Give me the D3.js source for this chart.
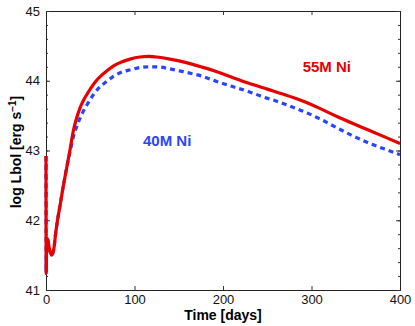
<!DOCTYPE html>
<html>
<head>
<meta charset="utf-8">
<script src="https://cdn.jsdelivr.net/npm/d3@7"></script>
<style>
  body { margin: 0; background: #fff; }
  text { font-family: "Liberation Sans", Arial, sans-serif; }
</style>
</head>
<body>
<div id="chart"></div>
<script>
// light curves, log L_bol vs time
var daysRed = [0, 0.2, 0.8, 2, 4, 6.5, 9, 11, 13, 16, 19, 22, 25, 27, 31, 35, 38.4, 42, 46, 50, 55.4, 62, 68.6, 76, 83.6, 95, 106, 117, 125, 140, 155, 175, 193, 210, 230, 250, 270, 290, 310, 330, 350, 365, 380, 400];
var lumRed = [42.92, 41.24, 41.74, 41.72, 41.58, 41.5, 41.6, 41.82, 42.0, 42.22, 42.45, 42.66, 42.86, 43.0, 43.29, 43.48, 43.61, 43.71, 43.80, 43.88, 43.98, 44.07, 44.14, 44.21, 44.26, 44.31, 44.34, 44.35, 44.34, 44.31, 44.27, 44.2, 44.13, 44.05, 43.96, 43.88, 43.80, 43.71, 43.60, 43.48, 43.37, 43.29, 43.21, 43.10];

var daysBlue = [0, 0.2, 0.8, 2, 4, 6.5, 9, 11, 13, 16, 19, 22, 25, 28, 31, 34.7, 38, 42, 47, 53.5, 60, 68.6, 77, 87, 96, 106, 115, 125, 140, 155, 175, 193, 210, 230, 245, 260, 275, 291, 310, 328, 345, 366, 385, 400];
var lumBlue = [42.92, 41.24, 41.74, 41.72, 41.58, 41.5, 41.6, 41.82, 42.0, 42.22, 42.45, 42.66, 42.86, 43.03, 43.2, 43.34, 43.45, 43.56, 43.67, 43.80, 43.9, 43.99, 44.07, 44.13, 44.16, 44.19, 44.2, 44.2, 44.17, 44.13, 44.07, 43.99, 43.92, 43.84, 43.77, 43.71, 43.64, 43.56, 43.45, 43.33, 43.22, 43.10, 43.01, 42.94];

var xTicks = [0, 100, 200, 300, 400];
var yTicks = [41, 42, 43, 44, 45];
var yMinor = d3.range(41, 45.001, 0.2);

var W = 415, H = 326,
    margin = { top: 11, right: 15, bottom: 36, left: 46 },
    width = W - margin.left - margin.right,
    height = H - margin.top - margin.bottom;

var svg = d3.select('#chart').append('svg')
  .attr('width', W)
  .attr('height', H);

var g = svg.append('g')
  .attr('transform', 'translate(' + margin.left + ',' + margin.top + ')');

var x = d3.scaleLinear().domain([0, 400]).range([0, width]);
var y = d3.scaleLinear().domain([41, 45]).range([height, 0]);

var red = '#e60000', blue = '#2b44ff';

// axes (ticks point inward, box on all four sides)
g.append('g')
  .attr('transform', 'translate(0,' + height + ')')
  .call(d3.axisBottom(x).tickValues(xTicks).tickSize(-4).tickPadding(5));
g.append('g')
  .call(d3.axisTop(x).tickValues(xTicks).tickSize(-4).tickFormat(''));
g.append('g')
  .call(d3.axisLeft(y).tickValues(yTicks).tickSize(-4).tickPadding(6).tickFormat(d3.format('d')));
g.append('g')
  .attr('transform', 'translate(' + width + ',0)')
  .call(d3.axisRight(y).tickValues(yTicks).tickSize(-4).tickFormat(''));

g.append('g')
  .call(d3.axisLeft(y).tickValues(yMinor).tickSize(-2).tickFormat(''))
  .select('.domain').remove();
g.append('g')
  .attr('transform', 'translate(' + width + ',0)')
  .call(d3.axisRight(y).tickValues(yMinor).tickSize(-2).tickFormat(''))
  .select('.domain').remove();

g.selectAll('.domain').attr('stroke', '#222');
g.selectAll('.tick line').attr('stroke', '#333');
g.selectAll('.tick text').attr('font-size', 13).attr('fill', '#111');

var line = d3.line()
  .x(function (d) { return x(d[0]); })
  .y(function (d) { return y(d[1]); })
  .curve(d3.curveMonotoneX);

g.append('clipPath').attr('id', 'clip')
  .append('rect').attr('x', -2).attr('y', 0).attr('width', width + 2).attr('height', height);

var curves = g.append('g').attr('clip-path', 'url(#clip)');

curves.append('path')
  .datum(d3.zip(daysBlue, lumBlue))
  .attr('d', line)
  .attr('fill', 'none')
  .attr('stroke', blue)
  .attr('stroke-width', 3.2)
  .attr('stroke-dasharray', '5,4');

curves.append('path')
  .datum(d3.zip(daysRed, lumRed))
  .attr('d', line)
  .attr('fill', 'none')
  .attr('stroke', red)
  .attr('stroke-width', 3.2)
  .attr('stroke-linejoin', 'round');

g.append('text')
  .attr('x', width / 2)
  .attr('y', height + 30)
  .attr('text-anchor', 'middle')
  .attr('font-size', 14)
  .attr('font-weight', 'bold')
  .text('Time [days]');

var yl = svg.append('text')
  .attr('transform', 'translate(21,' + 152 + ') rotate(-90)')
  .attr('text-anchor', 'middle')
  .attr('font-size', 14)
  .attr('font-weight', 'bold');
yl.append('tspan').text('log Lbol [erg s');
yl.append('tspan').attr('dy', -5).attr('font-size', 10).text('\u22121');
yl.append('tspan').attr('dy', 5).text(']');

g.append('text')
  .attr('x', x(290))
  .attr('y', y(44.12))
  .attr('font-size', 15)
  .attr('font-weight', 'bold')
  .attr('fill', red)
  .text('55M Ni');

g.append('text')
  .attr('x', x(109.6))
  .attr('y', y(43.065))
  .attr('font-size', 15)
  .attr('font-weight', 'bold')
  .attr('fill', blue)
  .text('40M Ni');
</script>
</body>
</html>
